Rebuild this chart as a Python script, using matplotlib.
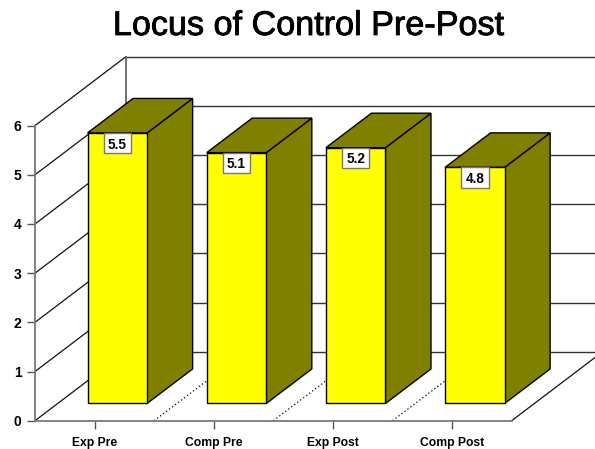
import matplotlib
matplotlib.use("Agg")
import matplotlib.pyplot as plt
import matplotlib.patheffects as pe
from matplotlib.patches import Polygon, Rectangle

categories = ["Exp Pre", "Comp Pre", "Exp Post", "Comp Post"]
values = [5.5, 5.1, 5.2, 4.8]
y_ticks = [0, 1, 2, 3, 4, 5, 6]
title = "Locus of Control Pre-Post"

W, H = 595, 449
X0, X1 = 35.0, 511.7      # front axis, pixels
Y0, Y6 = 420.7, 125.6
DX = 91 / ((X1 - X0) / 4)  # depth in data units
DY = 69 / ((Y0 - Y6) / 6)

plt.rcParams["font.family"] = ["Liberation Sans", "DejaVu Sans"]
fig = plt.figure(figsize=(W / 100, H / 100), dpi=100, facecolor="white")
ax = fig.add_axes([X0 / W, 1 - Y0 / H, (X1 - X0) / W, (Y0 - Y6) / H])
ax.set_xlim(0, 4)
ax.set_ylim(0, 6)
ax.patch.set_visible(False)

for s in ("top", "right"):
    ax.spines[s].set_visible(False)
for s in ("left", "bottom"):
    ax.spines[s].set_color("#7a7a7a")
    ax.spines[s].set_linewidth(1.3)
    ax.spines[s].set_zorder(2)

ax.set_yticks(y_ticks)
ax.set_xticks([i + 0.5 for i in range(len(categories))])
ax.set_xticklabels(categories, fontsize=8.7, fontweight="bold")
ax.set_yticklabels([str(t) for t in y_ticks], fontsize=10, fontweight="bold")
ax.tick_params(axis="y", length=5.8, width=1, color="#555555", pad=4)
ax.tick_params(axis="x", length=6, width=1, color="#555555", pad=5.5)

GRID = "#333333"
for t in y_ticks:
    ax.plot([0, DX], [t, t + DY], color="#111111", lw=0.9, clip_on=False, zorder=1)
    ax.plot([DX, 4 + DX], [t + DY, t + DY], color=GRID, lw=1.0, clip_on=False, zorder=1)
ax.plot([DX, DX], [DY, 6 + DY], color="#666666", lw=1.3, clip_on=False, zorder=1)
ax.plot([4, 4 + DX], [0, DY], color="#111111", lw=0.9, clip_on=False, zorder=1)
for i in range(1, len(categories)):
    ax.plot([i, i + DX], [0, DY], color="black", lw=0.9, ls=(0, (1, 2)), clip_on=False, zorder=1)

YELLOW, OLIVE = "#ffff00", "#808000"
d0x, d0y = DX * 0.25, DY * 0.25
d1x, d1y = DX * 0.5, DY * 0.5
for i, v in enumerate(values):
    l, r = i + 0.25 + d0x, i + 0.75 + d0x
    b, t = d0y, v + d0y
    kw = dict(edgecolor="black", linewidth=1.0, clip_on=False, joinstyle="miter")
    ax.add_patch(Polygon([(r, b), (r + d1x, b + d1y), (r + d1x, t + d1y), (r, t)],
                         facecolor=OLIVE, zorder=3, **kw))
    ax.add_patch(Polygon([(l, t), (r, t), (r + d1x, t + d1y), (l + d1x, t + d1y)],
                         facecolor=OLIVE, zorder=3, **kw))
    ax.add_patch(Polygon([(l, b), (r, b), (r, t), (l, t)],
                         facecolor=YELLOW, zorder=4, **kw))
    bw, bh = 27.6 / 119.2, 20.5 / 49.2
    cx = (l + r) / 2
    ax.add_patch(Rectangle((cx - bw / 2, t - bh), bw, bh, facecolor="white",
                           edgecolor="#777777", linewidth=1.0, zorder=5, clip_on=False))
    ax.text(cx, t - bh / 2, f"{v:.1f}", ha="center", va="center_baseline",
            fontsize=9.8, fontweight="bold", color="black", zorder=6)

fig.text(308 / W, 1 - 26.5 / H, title, ha="center", va="center", fontsize=24.6, color="black",
         path_effects=[pe.withStroke(linewidth=0.6, foreground="black")])
fig.savefig("out.png", dpi=100, facecolor="white")
